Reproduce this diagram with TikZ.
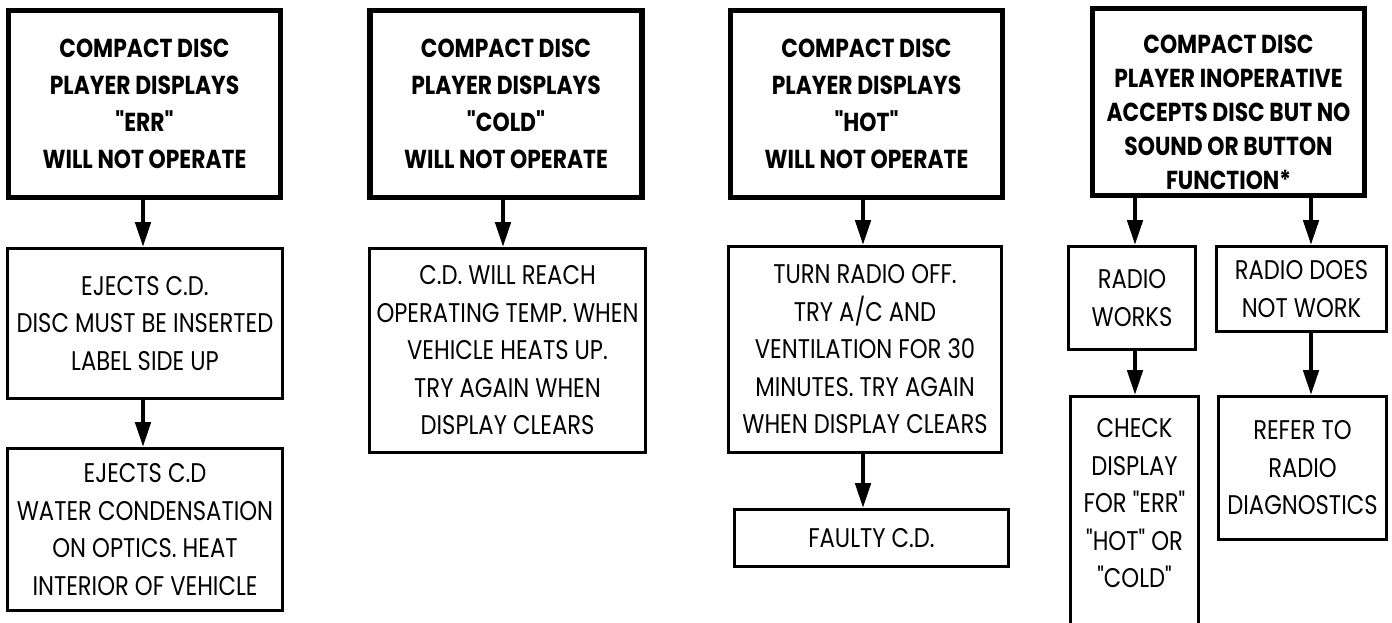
\documentclass[tikz,border=0pt]{standalone}
\usepackage{fontspec}
\setmainfont{Poppins}[FakeStretch=0.84, Ligatures=TeXOff]
\usetikzlibrary{arrows.meta}
\tikzset{
  base/.style={draw=black, fill=white, align=center, inner sep=0pt, text=black},
  head/.style={base, line width=5.5pt, font=\bfseries\fontsize{26}{37}\selectfont},
  headfive/.style={base, line width=5.5pt, font=\bfseries\fontsize{26}{34}\selectfont},
  plain/.style={base, line width=2.7pt, font=\fontsize{27}{37.5}\selectfont},
  arr/.style={line width=4.5pt, -{Triangle[length=25pt,width=15pt]}}
}
\begin{document}
\begin{tikzpicture}[x=1pt,y=-1pt]
\useasboundingbox (0,0) rectangle (1392,623);
% column 1
\node[head, minimum width=272pt, minimum height=186.5pt] (c1a) at (144.5,104)
  {COMPACT DISC\\PLAYER DISPLAYS\\"ERR"\\WILL NOT OPERATE};
\node[plain, minimum width=275pt, minimum height=150pt] (c1b) at (145,323.5)
  {EJECTS C.D.\\DISC MUST BE INSERTED\\LABEL SIDE UP};
\node[plain, minimum width=275pt, minimum height=162pt] (c1c) at (145,529.5)
  {EJECTS C.D\\WATER CONDENSATION\\ON OPTICS. HEAT\\INTERIOR OF VEHICLE};
% column 2
\node[head, minimum width=272pt, minimum height=186.5pt] (c2a) at (506,104)
  {COMPACT DISC\\PLAYER DISPLAYS\\"COLD"\\WILL NOT OPERATE};
\node[plain, minimum width=276pt, minimum height=204pt] (c2b) at (507.5,350.5)
  {C.D. WILL REACH\\OPERATING TEMP. WHEN\\VEHICLE HEATS UP.\\TRY AGAIN WHEN\\DISPLAY CLEARS};
% column 3
\node[head, minimum width=272pt, minimum height=186.5pt] (c3a) at (866.5,104)
  {COMPACT DISC\\PLAYER DISPLAYS\\"HOT"\\WILL NOT OPERATE};
\node[plain, minimum width=273pt, minimum height=206pt] (c3b) at (865,349.5)
  {TURN RADIO OFF.\\TRY A/C AND\\VENTILATION FOR 30\\MINUTES. TRY AGAIN\\WHEN DISPLAY CLEARS};
\node[plain, minimum width=274pt, minimum height=57pt] (c3c) at (871.5,538)
  {FAULTY C.D.};
% column 4
\node[headfive, minimum width=272pt, minimum height=186.5pt] (c4a) at (1228.5,102)
  {\mbox{}\\[6pt]COMPACT DISC\\PLAYER INOPERATIVE\\ACCEPTS DISC BUT NO\\SOUND OR BUTTON\\FUNCTION*};
\node[plain, minimum width=127pt, minimum height=103pt] (rw) at (1132,298)
  {RADIO\\WORKS};
\node[plain, minimum width=170pt, minimum height=85pt] (rd) at (1301.5,289)
  {RADIO DOES\\NOT WORK};
\node[plain, minimum width=128pt, minimum height=262pt] (ck) at (1134.5,527.5)
  {CHECK\\DISPLAY\\FOR "ERR"\\"HOT" OR\\"COLD"\\[11.5pt]};
\node[plain, minimum width=168pt, minimum height=143pt] (rf) at (1302.5,468)
  {REFER TO\\RADIO\\DIAGNOSTICS};
% arrow x positions
\coordinate (x1) at (143,0);
\coordinate (x2) at (503,0);
\coordinate (x3) at (863,0);
\coordinate (xl) at (1135,0);
\coordinate (xr) at (1311,0);
% arrows
\draw[arr] (c1a.south -| x1) -- (c1b.north -| x1);
\draw[arr] (c1b.south -| x1) -- (c1c.north -| x1);
\draw[arr] (c2a.south -| x2) -- (c2b.north -| x2);
\draw[arr] (c3a.south -| x3) -- (c3b.north -| x3);
\draw[arr] (c3b.south -| x3) -- (c3c.north -| x3);
\draw[arr] (c4a.south -| xl) -- (rw.north -| xl);
\draw[arr] (c4a.south -| xr) -- (rd.north -| xr);
\draw[arr] (rw.south -| xl) -- (ck.north -| xl);
\draw[arr] (rd.south -| xr) -- (rf.north -| xr);
\end{tikzpicture}
\end{document}
